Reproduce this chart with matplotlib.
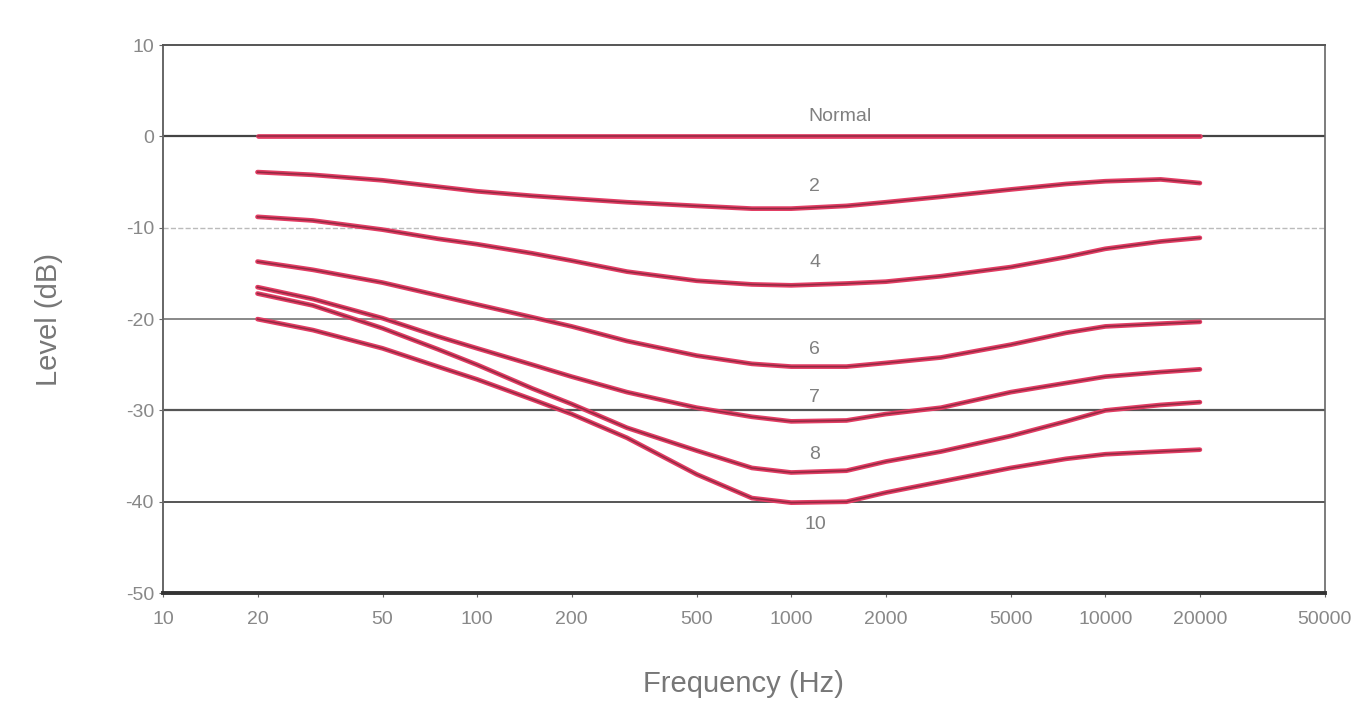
import numpy as np
import matplotlib as mpl
mpl.use('Agg')
import matplotlib.pyplot as plt

freq = [20, 30, 50, 75, 100, 150, 200, 300, 500, 750, 1000, 1500,
        2000, 3000, 5000, 7500, 10000, 15000, 20000]

normal = [0.0]*len(freq)
c2 = [-3.9, -4.2, -4.8, -5.5, -6.0, -6.5, -6.8, -7.2, -7.6, -7.9, -7.9, -7.6,
      -7.2, -6.6, -5.8, -5.2, -4.9, -4.7, -5.1]
c4 = [-8.8, -9.2, -10.2, -11.2, -11.8, -12.8, -13.6, -14.8, -15.8, -16.2, -16.3, -16.1,
      -15.9, -15.3, -14.3, -13.2, -12.3, -11.5, -11.1]
c6 = [-13.7, -14.6, -16.0, -17.4, -18.4, -19.8, -20.8, -22.4, -24.0, -24.9, -25.2, -25.2,
      -24.8, -24.2, -22.8, -21.5, -20.8, -20.5, -20.3]
c7 = [-16.5, -17.8, -19.9, -21.9, -23.2, -25.0, -26.3, -28.0, -29.7, -30.7, -31.2, -31.1,
      -30.4, -29.7, -28.0, -27.0, -26.3, -25.8, -25.5]
c8 = [-17.2, -18.5, -21.0, -23.3, -25.0, -27.6, -29.3, -31.9, -34.4, -36.3, -36.8, -36.6,
      -35.6, -34.5, -32.8, -31.2, -30.0, -29.4, -29.1]
c10 = [-20.0, -21.2, -23.2, -25.2, -26.6, -28.8, -30.4, -33.0, -37.0, -39.6, -40.1, -40.0,
       -39.0, -37.8, -36.3, -35.3, -34.8, -34.5, -34.3]

curves = [normal, c2, c4, c6, c7, c8, c10]
labels = ['Normal', '2', '4', '6', '7', '8', '10']
label_y = [2.2, -5.5, -13.8, -23.3, -28.6, -34.8, -42.5]
label_f = [1430, 1190, 1190, 1190, 1190, 1190, 1190]

xticks = [10, 20, 50, 100, 200, 500, 1000, 2000, 5000, 10000, 20000, 50000]
yticks = [10, 0, -10, -20, -30, -40, -50]

plt.rcParams['axes.unicode_minus'] = False
plt.rcParams['font.family'] = ['Liberation Sans', 'DejaVu Sans']

fig = plt.figure(figsize=(13.67, 7.06), dpi=100)
ax = fig.add_axes([0.1192, 0.160, 0.850, 0.776])

ax.set_xscale('log')
ax.set_xlim(10, 50000)
ax.set_ylim(-50, 10)

# horizontal grid, mixed like the scanned original
grid_style = {0: ('-', '#444444', 1.6), -10: ('--', '#bbbbbb', 1.0),
              -20: ('-', '#888888', 1.4), -30: ('-', '#555555', 1.6),
              -40: ('-', '#555555', 1.4)}
for yv, (ls, col, lw) in grid_style.items():
    ax.axhline(yv, linestyle=ls, color=col, linewidth=lw, zorder=1)

for y in curves:
    ax.plot(freq, y, color='#e23c63', linewidth=3.4, zorder=3,
            solid_capstyle='round', solid_joinstyle='round')
    ax.plot(freq, y, color='#5a1f2c', linewidth=1.1, alpha=0.6, zorder=4,
            solid_joinstyle='round')

for lab, fx, ly in zip(labels, label_f, label_y):
    ax.text(fx, ly, lab, color='#808080', fontsize=14, ha='center', va='center', zorder=5)

ax.set_xticks(xticks)
ax.set_xticklabels([str(v) for v in xticks])
ax.minorticks_off()
ax.set_yticks(yticks)
ax.set_yticklabels([str(v) for v in yticks])
ax.tick_params(axis='both', labelsize=14, labelcolor='#888888', color='#666666', length=3)
ax.tick_params(axis='x', pad=10)

ax.set_xlabel('Frequency (Hz)', fontsize=21, color='#777777', labelpad=30)
ax.set_ylabel('Level (dB)', fontsize=21, color='#777777', labelpad=45)

ax.spines['bottom'].set_linewidth(2.8)
ax.spines['bottom'].set_color('#333333')
ax.spines['top'].set_linewidth(1.4)
ax.spines['top'].set_color('#555555')
ax.spines['left'].set_linewidth(1.4)
ax.spines['left'].set_color('#666666')
ax.spines['right'].set_linewidth(1.2)
ax.spines['right'].set_color('#666666')

fig.savefig('out.png', dpi=100)
plt.close()
